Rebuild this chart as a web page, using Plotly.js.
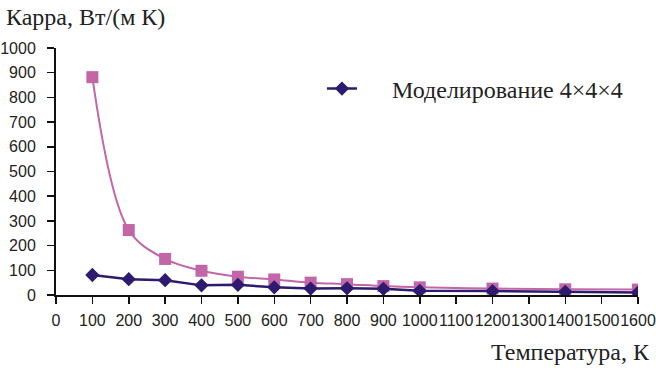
<!DOCTYPE html>
<html><head><meta charset="utf-8">
<script src="https://cdn.plot.ly/plotly-3.0.1.min.js"></script>
<style>body{margin:0;background:#fff}#c{width:656px;height:369px}</style>
</head><body><div id="c"></div>
<script>
var temps = [100,200,300,400,500,600,700,800,900,1000,1200,1400,1600];
var kappaModel = [81,64,60,39,41,31,26,27,25,17,16,13,10];
var kappaOther = [882,263,146,98,74,63,50,44,36,31,26,23,22];
var xTicks = [0,100,200,300,400,500,600,700,800,900,1000,1100,1200,1300,1400,1500,1600];
var yTicks = [0,100,200,300,400,500,600,700,800,900,1000];

var traces = [
  {x: temps, y: kappaOther, mode:'lines+markers', type:'scatter', showlegend:false,
   line:{color:'#c266a8', width:2, shape:'spline', smoothing:1.0},
   marker:{symbol:'square', size:12, color:'#c266a8'}},
  {x: temps, y: kappaModel, mode:'lines+markers', type:'scatter', name:'\u00a0\u00a0\u00a0\u00a0\u00a0Моделирование 4×4×4',
   line:{color:'#2e1a6e', width:2.5},
   marker:{symbol:'diamond', size:11, color:'#2e1a6e'}}
];
var layout = {
  width:656, height:369,
  margin:{l:56, r:18, t:48, b:74, autoexpand:false},
  paper_bgcolor:'#fff', plot_bgcolor:'#fff',
  font:{family:'Liberation Sans, Arial, sans-serif', size:16, color:'#222'},
  xaxis:{range:[0,1600], tickvals:xTicks, ticktext:xTicks.map(String), showgrid:false, zeroline:false,
         showline:true, linecolor:'#111', linewidth:2, ticks:'outside', ticklen:7, tickcolor:'#111', tickwidth:1.5,
         tickangle:0, tickfont:{size:16}, automargin:false, ticklabelstandoff:3},
  yaxis:{range:[0,1000], tickvals:yTicks, ticktext:yTicks.map(String), showgrid:false, zeroline:false,
         showline:true, linecolor:'#111', linewidth:2, ticks:'outside', ticklen:7, tickcolor:'#111', tickwidth:1.5,
         tickfont:{size:16}, automargin:false, ticklabelstandoff:8},
  showlegend:true,
  legend:{x:0.457, y:0.834, xanchor:'left', yanchor:'middle', xref:'paper', yref:'paper',
          font:{family:'Liberation Serif, Times New Roman, serif', size:24, color:'#222'}, bgcolor:'rgba(0,0,0,0)'},
  annotations:[
    {text:'Карра, Вт/(м К)', xref:'paper', yref:'paper', x:0, y:1, xshift:-52, yshift:31, xanchor:'left', yanchor:'middle', showarrow:false,
     font:{family:'Liberation Serif, Times New Roman, serif', size:24, color:'#222'}},
    {text:'Температура, К', xref:'paper', yref:'paper', x:1, y:0, xshift:14, yshift:-57, xanchor:'right', yanchor:'middle', showarrow:false,
     font:{family:'Liberation Serif, Times New Roman, serif', size:24, color:'#222'}}
  ]
};
Plotly.newPlot('c', traces, layout, {displayModeBar:false, staticPlot:true});
</script></body></html>
